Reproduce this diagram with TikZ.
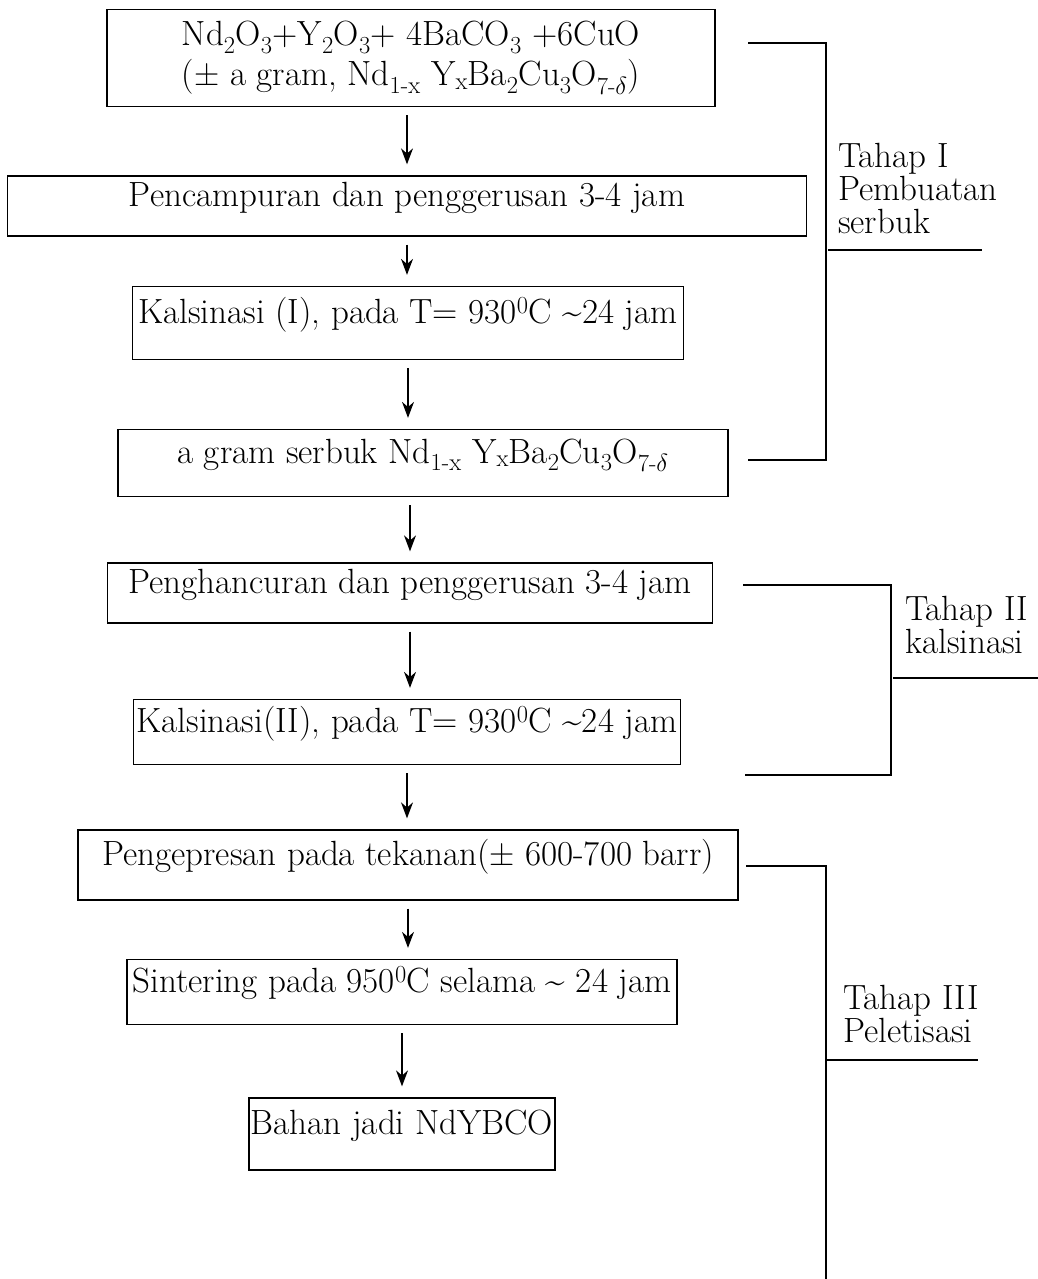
\documentclass[tikz,border=0pt]{standalone}
\usetikzlibrary{arrows.meta,positioning,calc}
\tikzstyle{proc} = [draw, line width=1.3pt, inner sep=0pt, align=center, font=\fontsize{35}{40}\selectfont]
\tikzstyle{one} = [text height=17pt, text depth=17pt]
\tikzstyle{arrow} = [line width=1.4pt,-{Stealth[length=16pt,width=12pt]},shorten <=8pt,shorten >=11pt]
\tikzstyle{brak} = [line width=1.2pt]
\tikzstyle{lbl} = [align=left, inner sep=0pt, font=\fontsize{35}{33}\selectfont]

\begin{document}
\begin{tikzpicture}[x=1pt,y=-1pt]
\useasboundingbox (0,0) rectangle (1038,1279);
\draw (411,58) node (b1) [proc, minimum width=608pt, minimum height=97pt] {Nd\textsubscript{2}O\textsubscript{3}+Y\textsubscript{2}O\textsubscript{3}+ 4BaCO\textsubscript{3} +6CuO\\(\textpm{} a gram, Nd\textsubscript{1-x} Y\textsubscript{x}Ba\textsubscript{2}Cu\textsubscript{3}O\textsubscript{7-$\delta$})};
\draw (407,206) node (b2) [proc, one, minimum width=799pt, minimum height=60pt] {Pencampuran dan penggerusan 3-4 jam};
\draw (408,323) node (b3) [proc, one, minimum width=551pt, minimum height=73pt] {Kalsinasi (I), pada T= 930\textsuperscript{0}C \textasciitilde24 jam};
\draw (423,463) node (b4) [proc, one, minimum width=610pt, minimum height=67pt] {a gram serbuk Nd\textsubscript{1-x} Y\textsubscript{x}Ba\textsubscript{2}Cu\textsubscript{3}O\textsubscript{7-$\delta$}};
\draw (410,593) node (b5) [proc, one, minimum width=605pt, minimum height=60pt] {Penghancuran dan penggerusan 3-4 jam};
\draw (407,732) node (b6) [proc, one, minimum width=547pt, minimum height=65pt] {Kalsinasi(II), pada T= 930\textsuperscript{0}C \textasciitilde24 jam};
\draw (408,865) node (b7) [proc, one, minimum width=660pt, minimum height=70pt] {Pengepresan pada tekanan(\textpm{} 600-700 barr)};
\draw (402,992) node (b8) [proc, one, minimum width=550pt, minimum height=65pt] {Sintering pada 950\textsuperscript{0}C selama \textasciitilde{} 24 jam};
\draw (402,1134) node (b9) [proc, one, minimum width=306pt, minimum height=72pt] {Bahan jadi NdYBCO};
\draw [arrow] (b1.south -| b2.north) -- (b2.north);
\draw [arrow] (b2.south) -- (b2.south |- b3.north);
\draw [arrow] (b3.south) -- (b3.south |- b4.north);
\draw [arrow] (b4.south -| b5.north) -- (b5.north);
\draw [arrow] (b5.south) -- (b5.south |- b6.north);
\draw [arrow] (b6.south) -- (b6.south |- b7.north);
\draw [arrow] (b7.south) -- (b7.south |- b8.north);
\draw [arrow] (b8.south) -- (b8.south |- b9.north);
\draw [brak] (748,43) -- (826,43) -- (826,460) -- (748,460);
\draw [brak] (828,250) -- (982,250);
\node (tahap1) [lbl, anchor=north west] at (838,143) {Tahap I\\Pembuatan\\serbuk};
\draw [brak] (743,585) -- (891,585) -- (891,775) -- (745,775);
\draw [brak] (893,678) -- (1038,678);
\node (tahap2) [lbl, anchor=north west] at (905,596) {Tahap II\\kalsinasi};
\draw [brak] (746,866) -- (826,866) -- (826,1279);
\draw [brak] (827,1060) -- (978,1060);
\node (tahap3) [lbl, anchor=north west] at (843,985) {Tahap III\\Peletisasi};
\end{tikzpicture}
\end{document}
